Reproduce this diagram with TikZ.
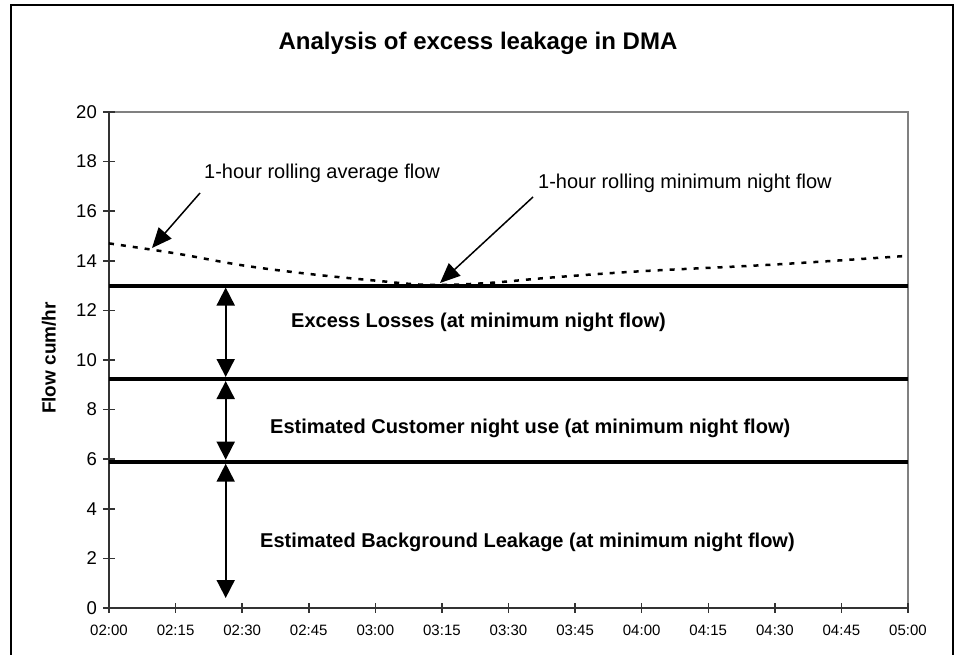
\documentclass[tikz,border=0pt]{standalone}
\usepackage{fontspec}
\setmainfont{Liberation Sans}
\usetikzlibrary{arrows.meta}
\begin{document}
\begin{tikzpicture}[x=1pt,y=-1pt,
  bandlabel/.style={font=\fontsize{20}{24}\selectfont\bfseries,anchor=west,inner sep=0pt},
  ann/.style={font=\fontsize{20}{24}\selectfont,anchor=west,inner sep=0pt},
  ytick/.style={font=\fontsize{18.5}{22}\selectfont,anchor=east,inner sep=0pt},
  xtick/.style={font=\fontsize{15}{18}\selectfont,inner sep=0pt},
  level/.style={line width=4pt},
  dbl/.style={line width=1.8pt,{Triangle[width=18pt,length=18pt]}-{Triangle[width=18pt,length=18pt]}},
  ptr/.style={line width=1.5pt,-{Triangle[width=17pt,length=20pt]}},
  axisline/.style={line width=1.5pt,black!80},
]
\useasboundingbox (0,0) rectangle (955,655);
% outer frame
\draw[line width=1.5pt] (11,655) -- (11,5) -- (953,5) -- (953,655);
% title
\node[font=\fontsize{24}{28}\selectfont\bfseries] (title) at (478,43) {Analysis of excess leakage in DMA};
% plot area border
\draw[line width=1.5pt,gray] (109,112) -- (908,112) -- (908,608);
\draw[axisline] (109,112) -- (109,608) -- (908,608);
% y ticks and labels
\foreach \v in {0,2,...,20}{
  \draw[axisline] (103,{608-\v*24.8}) -- (115,{608-\v*24.8});
  \node[ytick] (y\v) at (97,{608-\v*24.8}) {\v};
}
% x ticks and labels
\foreach \lab [count=\i from 0] in {02:00,02:15,02:30,02:45,03:00,03:15,03:30,03:45,04:00,04:15,04:30,04:45,05:00}{
  \draw[axisline] ({109+\i*66.583},603) -- ({109+\i*66.583},613);
  \node[xtick] (x\i) at ({109+\i*66.583},630) {\lab};
}
% axis label
\node[font=\fontsize{19}{23}\selectfont\bfseries,rotate=90] (ylab) at (49,358) {Flow cum/hr};
% dashed rolling average curve
\draw[line width=2.5pt,dash pattern=on 5pt off 7pt] plot[smooth,tension=0.6] coordinates {
 (109,243.4) (175.6,253.4) (242.2,265.3) (308.7,273.9) (375.3,280.6) (428.6,284.9)
 (486.3,283.1) (552.9,277.4) (641.7,271.2) (774.8,264.5) (908,255.8)};
% level lines
\coordinate (l13a) at (109,285.6); \coordinate (l13b) at (908,285.6);
\coordinate (l9a) at (109,379);   \coordinate (l9b) at (908,379);
\coordinate (l6a) at (109,461.7); \coordinate (l6b) at (908,461.7);
\draw[level] (l13a) -- (l13b);
\draw[level] (l9a) -- (l9b);
\draw[level] (l6a) -- (l6b);
% double arrows
\coordinate (d1) at (225.7,287.5);
\coordinate (d2) at (225.7,377);
\coordinate (d3) at (225.7,381);
\coordinate (d4) at (225.7,459.7);
\coordinate (d5) at (225.7,463.7);
\coordinate (d6) at (225.7,598);
\draw[dbl] (d1) -- (d2);
\draw[dbl] (d3) -- (d4);
\draw[dbl] (d5) -- (d6);
% band labels
\node[bandlabel] (excess) at (291,322) {Excess Losses (at minimum night flow)};
\node[bandlabel] (cust) at (270,428) {Estimated Customer night use (at minimum night flow)};
\node[bandlabel] (bg) at (260,542) {Estimated Background Leakage (at minimum night flow)};
% annotations
\node[ann] (avg) at (204,173) {1-hour rolling average flow};
\node[ann] (mnf) at (538,183) {1-hour rolling minimum night flow};
\coordinate (p1s) at (200,193);
\coordinate (p1e) at (152,248);
\coordinate (p2s) at (533,197);
\coordinate (p2e) at (440,283);
\draw[ptr] (p1s) -- (p1e);
\draw[ptr] (p2s) -- (p2e);
\end{tikzpicture}
\end{document}
